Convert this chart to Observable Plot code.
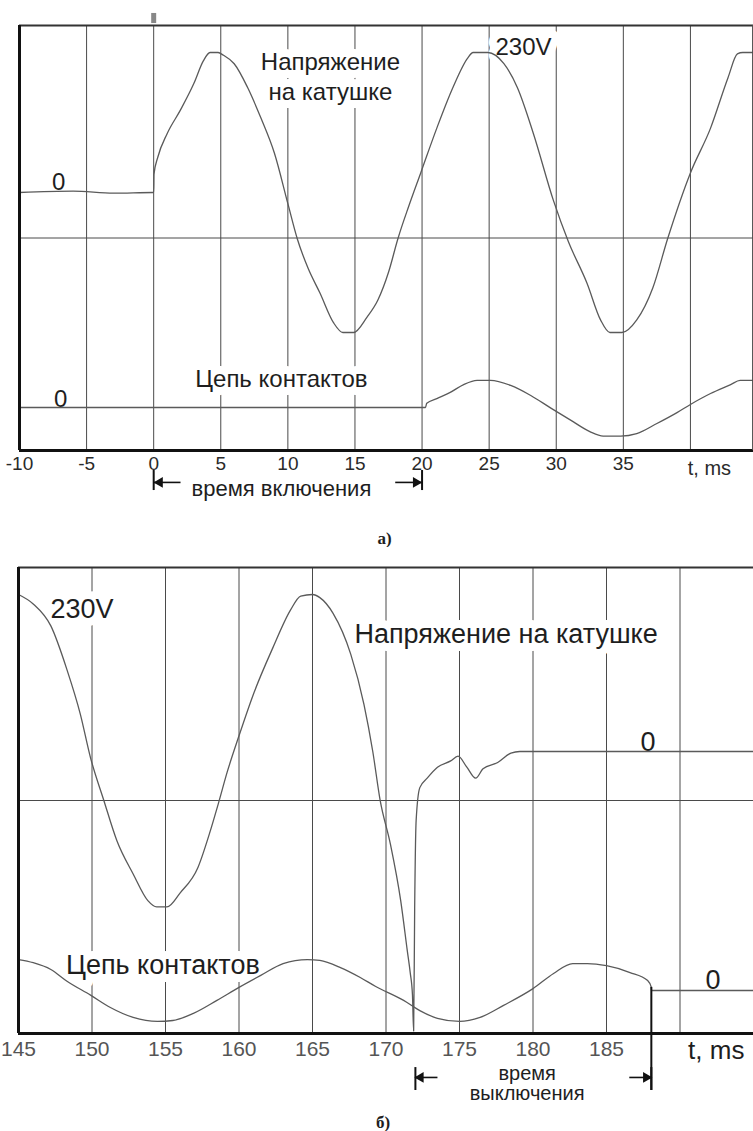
<!DOCTYPE html>
<html><head><meta charset="utf-8">
<script src="https://cdn.jsdelivr.net/npm/d3@7"></script>
<script src="https://cdn.jsdelivr.net/npm/@observablehq/plot@0.6"></script>
<style>
html,body{margin:0;padding:0;background:#fff}
body{width:753px;height:1131px;overflow:hidden;position:relative;font-family:"Liberation Sans",Arial,sans-serif}
#a,#b{position:absolute;left:0}
#a{top:0}
#b{top:547px}
</style></head><body><div id="a"></div><div id="b"></div>
<script>
// ---------- Panel a) switching on: time (ms) and relative amplitude ----------
const coilA_t = [-10, -6, -3, -0.05, 0, 0.02, 0.3, 1, 2, 3, 3.7, 4.2, 4.8, 5.2, 6, 7, 8, 9, 10, 10.7, 11.5, 12.4, 13.4, 14.1, 14.9, 15.9, 16.7, 17.5, 18.2, 19, 19.9, 21.1, 22.3, 23.4, 23.8, 24.9, 26.1, 27.1, 28.3, 29.8, 30.9, 32.3, 33.3, 34, 34.9, 36, 37.2, 38.3, 40, 41.5, 42.8, 43.5, 43.9, 44.7];
const coilA_v = [0, 0.01, -0.005, 0, 0, 0.13, 0.25, 0.42, 0.59, 0.78, 0.94, 1, 1, 0.98, 0.92, 0.75, 0.53, 0.28, -0.08, -0.33, -0.54, -0.72, -0.93, -1, -1, -0.89, -0.77, -0.57, -0.33, -0.1, 0.14, 0.46, 0.75, 0.96, 1, 1, 0.92, 0.75, 0.42, -0.06, -0.35, -0.65, -0.91, -1, -1, -0.91, -0.68, -0.33, 0.14, 0.46, 0.82, 0.99, 1, 1];
const contactA_t = [-10, 20, 20.25, 20.35, 21.1, 22.1, 23.1, 24.1, 25.1, 26.6, 28.1, 29.6, 31.1, 32.5, 33.5, 34.8, 36, 37.5, 39, 40, 41.5, 43, 43.7, 44.7];
const contactA_v = [0, 0, 0, 0.15, 0.32, 0.54, 0.82, 0.97, 0.97, 0.79, 0.43, -0.02, -0.46, -0.86, -1.02, -1.02, -0.93, -0.57, -0.18, 0.11, 0.5, 0.82, 0.97, 0.97];
const ticksA = [-10, -5, 0, 5, 10, 15, 20, 25, 30, 35];
const gridA = [-5, 0, 5, 10, 15, 20, 25, 30, 35, 40];
const labelsA_text = ["0", "Напряжение\nна катушке", "230V", "Цепь контактов", "0"];
const labelsA_x = [-7.09, 13.17, 27.56, 9.52, -6.94];
const labelsA_y = [0.411, 1.161, 1.375, -0.996, -1.139];
const onInterval = [0, 20]; // время включения

// ---------- Panel б) switching off ----------
const coilB_t = [145, 146, 147.2, 148.3, 149.2, 149.9, 150.8, 151.7, 152.8, 153.8, 154.4, 155.1, 156, 157.2, 158, 158.6, 159.2, 160, 161, 162.3, 163.5, 164.2, 165, 165.5, 166.4, 167.6, 168.5, 169.1, 169.6, 170.3, 171, 171.45, 171.65, 171.8, 171.88, 171.95, 172.05, 172.3, 172.8, 173.5, 174.4, 174.9, 175.5, 176.1, 176.6, 177.6, 178.5, 179.1, 180, 195];
const coilB_v = [1, 0.94, 0.8, 0.52, 0.24, -0.04, -0.31, -0.57, -0.78, -0.95, -0.99, -0.99, -0.9, -0.74, -0.52, -0.33, -0.13, 0.1, 0.37, 0.66, 0.9, 0.99, 1, 0.98, 0.88, 0.62, 0.3, 0.0, -0.31, -0.59, -0.95, -1.27, -1.41, -1.55, -1.78, -1.0, -0.44, -0.23, -0.17, -0.1, -0.06, -0.03, -0.1, -0.17, -0.11, -0.07, -0.01, 0, 0, 0];
const contactB_t = [145, 146, 147.2, 148.3, 149.9, 151.25, 152.8, 154.45, 155.5, 156.9, 158.5, 160, 161.45, 163, 164.65, 165.5, 166.9, 168.25, 169.3, 171.2, 172.3, 173.5, 175, 176.4, 178, 180, 181.4, 182.7, 183.7, 185, 186.6, 187.8, 188.05, 188.06, 195];
const contactB_v = [1, 0.9, 0.68, 0.3, -0.15, -0.55, -0.87, -1, -0.97, -0.74, -0.32, 0.1, 0.48, 0.87, 1, 0.97, 0.74, 0.42, 0.13, -0.32, -0.65, -0.9, -1, -0.87, -0.48, 0.06, 0.55, 0.87, 0.87, 0.8, 0.58, 0.32, 0.1, 0, 0];
const ticksB = [145, 150, 155, 160, 165, 170, 175, 180, 185];
const gridB = [150, 155, 160, 165, 170, 175, 180, 185, 190];
const labelsB_text = ["230V", "Напряжение на катушке", "0", "Цепь контактов", "0"];
const labelsB_x = [149.32, 178.17, 187.83, 154.82, 192.25];
const labelsB_y = [1.229, 1.07, 0.382, -1.038, -1.134];
const offInterval = [172, 188.05]; // время выключения

// ---------- layout ----------
const A = {x: [-10, 44.7], y: [-1.518, 1.518], coil: 0.325, contact: -1.211, gain: 0.2};
const B = {x: [145, 195], y: [-1.484, 1.484], coil: 0.312, contact: -1.21, gain: 0.197};
const FONT = "'Liberation Sans', Arial, Helvetica, sans-serif";
const SERIF = "'Liberation Serif', 'Times New Roman', serif";
const TRACE = "#5a5a5a", GRID = "#4a4a4a", INK = "#1e1e1e";

const rows = (ts, vs) => ts.map((t, i) => ({t, v: vs[i]}));
const lbls = (txt, xs, ys) => txt.map((text, i) => ({text, x: xs[i], y: ys[i]}));

function panel(cfg) {
  const {L, coil, contact, ticks, grid, labels, tickFont, labelFont, tickPad, tickFill, extra, height, mt, mb, ml} = cfg;
  return Plot.plot({
    width: 753, height, marginLeft: ml, marginRight: 0, marginTop: mt, marginBottom: mb,
    x: {domain: L.x, axis: null},
    y: {domain: L.y, axis: null},
    style: {fontFamily: FONT, fontSize: tickFont + "px", background: "white", color: INK, overflow: "visible"},
    marks: [
      Plot.ruleX(grid, {stroke: GRID, strokeWidth: 1}),
      Plot.ruleY([0], {stroke: GRID, strokeWidth: 1}),
      Plot.text(labels, {x: "x", y: "y", text: "text", fontSize: labelFont, fill: INK,
        stroke: "white", strokeWidth: 16, paintOrder: "stroke", lineHeight: cfg.lineHeight || 1.2}),
      Plot.line(coil, {x: "t", y: d => L.coil + d.v, stroke: TRACE, strokeWidth: 1.3, curve: "monotone-x"}),
      Plot.line(contact, {x: "t", y: d => L.contact + L.gain * d.v, stroke: TRACE, strokeWidth: 1.3, curve: "monotone-x"}),
      Plot.ruleY([L.y[1]], {stroke: "#333", strokeWidth: 2}),
      Plot.ruleY([L.y[0]], {stroke: "#111", strokeWidth: 3}),
      Plot.ruleX([L.x[0]], {stroke: "#111", strokeWidth: 3}),
      Plot.axisX({ticks, tickFormat: d => String(d), tickSize: 0, tickPadding: tickPad, fill: tickFill, fontSize: tickFont}),
      ...extra
    ]
  });
}

// annotation (dimension arrow) builder
function dimension(L, [t0, t1], yBar0, yBar1, yArrow, shaft, rHead) {
  return [
    Plot.ruleX([t0, t1], {y1: yBar0, y2: yBar1, stroke: "#111", strokeWidth: 2}),
    Plot.link([{a: t0, b: t0 + shaft}, {a: t1 - shaft, b: t1}], {x1: "a", x2: "b", y1: yArrow, y2: yArrow, stroke: "#111", strokeWidth: 1.6}),
    Plot.dot([{t: t0, r: -90}, {t: t1, r: 90}], {x: d => d.t + (d.r < 0 ? 1 : -1) * rHead, y: yArrow, symbol: "triangle", r: 4, fill: "#111", rotate: "r"})
  ];
}

const figA = panel({
  L: A, height: 547, mt: 25, mb: 97, ml: 19,
  coil: rows(coilA_t, coilA_v), contact: rows(contactA_t, contactA_v),
  ticks: ticksA, grid: gridA, labels: lbls(labelsA_text, labelsA_x, labelsA_y),
  tickFont: 19, labelFont: 24, tickPad: 6, tickFill: "#2a2a2a", lineHeight: 1.25,
  extra: [
    Plot.ruleX([A.x[1] - 0.05], {stroke: GRID, strokeWidth: 1.5}),
    Plot.ruleX([0], {y1: 1.532, y2: 1.604, stroke: "#888", strokeWidth: 5}),
    ...dimension(A, onInterval, -1.661, -1.804, -1.746, 2.0, 0.45),
    Plot.text(["время включения"], {x: 9.52, y: -1.79, text: d => d, fontSize: 22, fill: INK}),
    Plot.text(["t, ms"], {x: 39.8, y: -1.646, text: d => d, textAnchor: "start", fontSize: 20, fill: "#2a2a2a"}),
    Plot.text(["а)"], {x: 17.2, y: -2.146, text: d => d, fontFamily: SERIF, fontWeight: "bold", fontSize: 17, fill: INK})
  ]
});
document.getElementById("a").append(figA);

const figB = panel({
  L: B, height: 584, mt: 20, mb: 98, ml: 18,
  coil: rows(coilB_t, coilB_v), contact: rows(contactB_t, contactB_v),
  ticks: ticksB, grid: gridB, labels: lbls(labelsB_text, labelsB_x, labelsB_y),
  tickFont: 21, labelFont: 27, tickPad: 8, tickFill: "#555",
  extra: [
    Plot.ruleX([offInterval[1]], {y1: B.contact + B.gain * 0.1, y2: -1.847, stroke: "#111", strokeWidth: 2}),
    ...dimension(B, offInterval, -1.701, -1.847, -1.764, 1.5, 0.35),
    Plot.text(["время\nвыключения"], {x: 179.6, y: -1.803, text: d => d, fontSize: 20, lineHeight: 1.02, fill: INK}),
    Plot.text(["t, ms"], {x: 190.55, y: -1.592, text: d => d, textAnchor: "start", fontSize: 26, fill: INK}),
    Plot.text(["б)"], {x: 169.8, y: -2.051, text: d => d, fontFamily: SERIF, fontWeight: "bold", fontSize: 17, fill: INK})
  ]
});
document.getElementById("b").append(figB);
</script></body></html>
